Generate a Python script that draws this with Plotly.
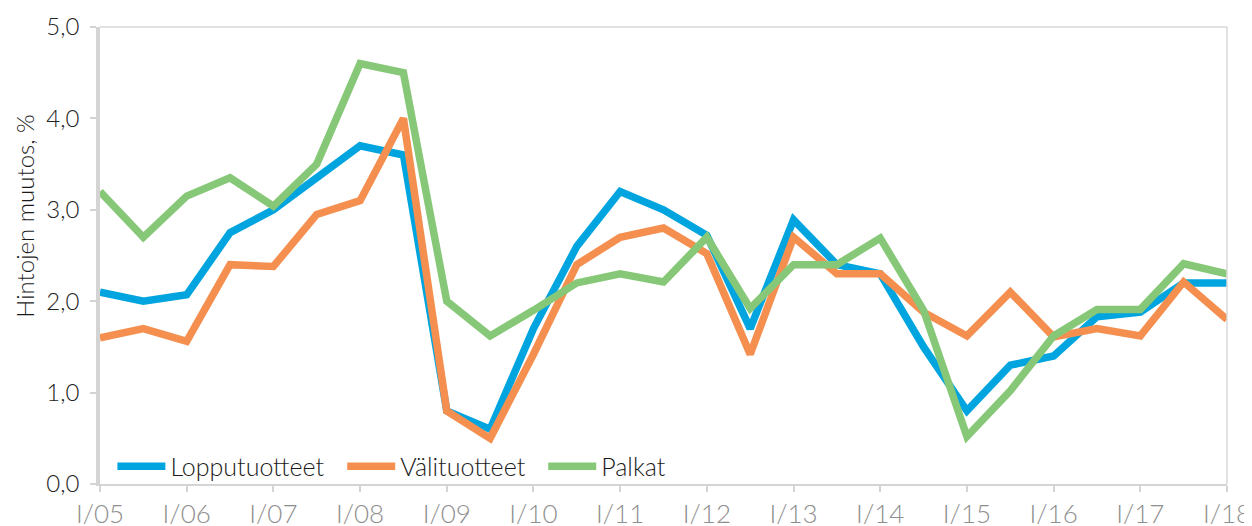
import plotly.graph_objects as go

periods = []
for yr in range(5, 19):
    periods.append(f"I/{yr:02d}")
    if yr < 18:
        periods.append(f"II/{yr:02d}")

tick_labels = [f"I/{yr:02d}" for yr in range(5, 19)]

lopputuotteet = [2.1, 2.0, 2.07, 2.75, 3.0, 3.35, 3.7, 3.6, 0.8, 0.6, 1.7, 2.6, 3.2, 3.0,
                 2.72, 1.7, 2.89, 2.4, 2.3, 1.5, 0.8, 1.3, 1.4, 1.83, 1.88, 2.2, 2.2]
valituotteet = [1.6, 1.7, 1.56, 2.4, 2.38, 2.95, 3.1, 4.0, 0.8, 0.5, 1.42, 2.4, 2.7, 2.8,
                2.52, 1.42, 2.7, 2.3, 2.3, 1.88, 1.62, 2.1, 1.61, 1.7, 1.62, 2.21, 1.8]
palkat = [3.2, 2.7, 3.15, 3.35, 3.04, 3.5, 4.6, 4.5, 2.0, 1.62, 1.9, 2.2, 2.3, 2.21,
          2.7, 1.92, 2.4, 2.4, 2.69, 1.9, 0.52, 1.02, 1.62, 1.91, 1.91, 2.41, 2.3]

series = [
    ("Lopputuotteet", lopputuotteet, "#00A5DF"),
    ("Välituotteet", valituotteet, "#F58F50"),
    ("Palkat", palkat, "#86C877"),
]

PAD = "\u00a0\u2009\u2009"
fig = go.Figure()
for name, vals, col in series:
    fig.add_trace(go.Scatter(x=periods, y=vals, mode="lines", name=name + PAD,
                             line=dict(color=col, width=7.5)))

# page body has an 8px margin; figure is sized/offset to compensate
fig.update_layout(
    width=1244, height=518,
    margin=dict(l=92, r=25, t=19, b=42),
    paper_bgcolor="white", plot_bgcolor="white",
    separators=", ",
    font=dict(family="Lato, sans-serif", color="#333333"),
    showlegend=True,
    legend=dict(orientation="h", x=0.011, y=-0.012, xanchor="left", yanchor="bottom",
                font=dict(size=25, color="#1a1a1a", weight=300), bgcolor="rgba(0,0,0,0)",
                itemwidth=48, tracegroupgap=0),
    shapes=[
        dict(type="line", xref="paper", yref="paper", x0=0, x1=1, y0=1, y1=1,
             line=dict(color="#D9D9D9", width=1.5)),
        dict(type="line", xref="paper", yref="paper", x0=1, x1=1, y0=0, y1=1,
             line=dict(color="#D9D9D9", width=1.5)),
    ],
    annotations=[
        dict(text="Hintojen muutos, %", xref="paper", yref="paper",
             x=-0.0665, y=0.585, xanchor="center", yanchor="middle",
             textangle=-90, showarrow=False,
             font=dict(size=24, color="#1a1a1a", weight=300)),
    ],
)

fig.update_xaxes(
    type="category", range=[0, 26], automargin=False,
    tickmode="array", tickvals=tick_labels, ticktext=tick_labels,
    showgrid=False, zeroline=False,
    showline=True, linecolor="#D4D4D4", linewidth=2,
    ticks="outside", ticklen=6, tickcolor="#D4D4D4", tickwidth=2,
    tickfont=dict(size=26, color="#8E8E8E", weight=300),
)
fig.update_yaxes(
    range=[0, 5], dtick=1, tickformat=".1f", automargin=False,
    showgrid=False, zeroline=False,
    showline=True, linecolor="#D4D4D4", linewidth=3.5,
    ticks="outside", ticklen=6, tickcolor="#D4D4D4", tickwidth=2,
    ticklabelstandoff=6,
    tickfont=dict(size=24, color="#222222", weight=300),
)

fig.write_html("out.html")
